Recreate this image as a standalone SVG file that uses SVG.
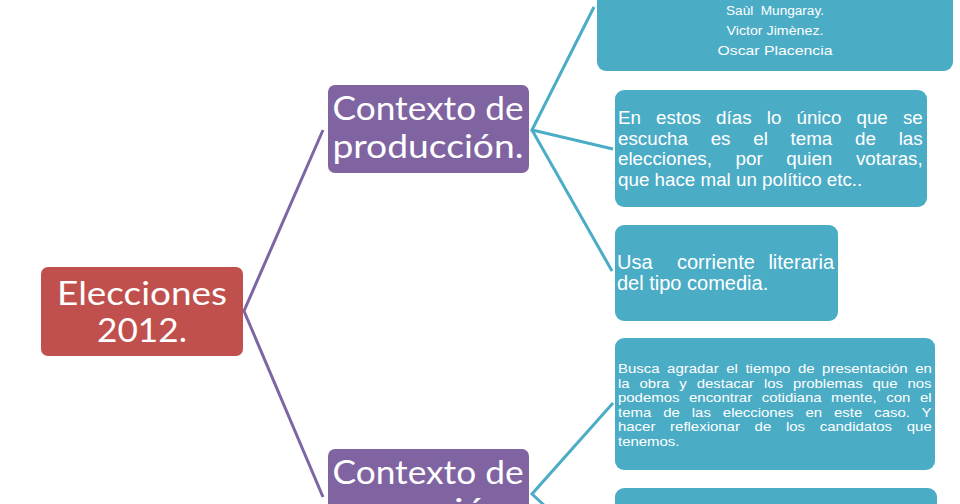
<svg xmlns="http://www.w3.org/2000/svg" width="960" height="504" viewBox="0 0 960 504">
<style>
.red{fill:#c0504d}
.pur{fill:#8064a2}
.teal{fill:#4bacc6}
.big{font-family:Lato,"Open Sans",sans-serif;font-size:33px;fill:#ffffff;text-anchor:middle}
.t{font-family:"Liberation Sans",Arial,sans-serif;fill:#ffffff}
.c-p{stroke:#7d66a6;stroke-width:3;fill:none}
.c-t{stroke:#4bacc6;stroke-width:3;fill:none}
</style>
<rect width="960" height="504" fill="#ffffff"/>
<g id="connectors">
<polyline class="c-p" points="323,130 244,311 323,497"/>
<polyline class="c-t" points="594,7 532,130 613,149"/>
<line class="c-t" x1="532" y1="130" x2="612" y2="271"/>
<polyline class="c-t" points="613,403 532,494 560,520"/>
</g>
<g id="n-elecciones">
<rect class="red" x="41" y="267" width="202" height="89" rx="7"/>
<text class="big" x="142" y="305" textLength="170" lengthAdjust="spacingAndGlyphs">Elecciones</text>
<text class="big" x="142" y="342" textLength="90" lengthAdjust="spacingAndGlyphs">2012.</text>
</g>
<g id="n-produccion">
<rect class="pur" x="328" y="85" width="201" height="88" rx="7"/>
<text class="big" x="428" y="120" textLength="191" lengthAdjust="spacingAndGlyphs">Contexto de</text>
<text class="big" x="428" y="158" textLength="191" lengthAdjust="spacingAndGlyphs">producción.</text>
</g>
<g id="n-recepcion">
<rect class="pur" x="328" y="449" width="201" height="88" rx="7"/>
<text class="big" x="428" y="484" textLength="191" lengthAdjust="spacingAndGlyphs">Contexto de</text>
<text class="big" x="428" y="522" textLength="180" lengthAdjust="spacingAndGlyphs">recepción.</text>
</g>
<g id="n-autores">
<rect class="teal" x="597" y="-20" width="356" height="91" rx="9"/>
<text class="t" x="775" y="15" font-size="12" text-anchor="middle" textLength="98" lengthAdjust="spacingAndGlyphs" xml:space="preserve">Saùl  Mungaray.</text>
<text class="t" x="775" y="35" font-size="12" text-anchor="middle" textLength="97" lengthAdjust="spacingAndGlyphs">Victor Jimènez.</text>
<text class="t" x="775" y="55" font-size="13" text-anchor="middle" textLength="115" lengthAdjust="spacingAndGlyphs">Oscar Placencia</text>
</g>
<g id="n-elecciones-dias">
<rect class="teal" x="615" y="90" width="312" height="117" rx="9"/>
<g class="t" font-size="18.8">
<text x="618" y="124" word-spacing="9.9">En estos días lo único que se</text>
<text x="618" y="144.5" word-spacing="17.5">escucha es el tema de las</text>
<text x="618" y="165" word-spacing="18.4">elecciones, por quien votaras,</text>
<text x="618" y="185.5">que hace mal un político etc..</text>
</g>
</g>
<g id="n-corriente">
<rect class="teal" x="615" y="225" width="223" height="96" rx="9"/>
<g class="t" font-size="20">
<text y="269"><tspan x="617">Usa</tspan><tspan x="677">corriente</tspan><tspan x="834" text-anchor="end">literaria</tspan></text>
<text x="617" y="290">del tipo comedia.</text>
</g>
</g>
<g id="n-busca">
<rect class="teal" x="615" y="338" width="320" height="132" rx="9"/>
<g class="t" font-size="13" transform="translate(618 0) scale(1.15 1)">
<text x="0" y="373" word-spacing="3">Busca agradar el tiempo de presentación en</text>
<text x="0" y="387.6" word-spacing="5">la obra y destacar los problemas que nos</text>
<text x="0" y="402.2" word-spacing="4.7">podemos encontrar cotidiana mente, con el</text>
<text x="0" y="416.8" word-spacing="6.8">tema de las elecciones en este caso. Y</text>
<text x="0" y="431.4" word-spacing="9.2">hacer reflexionar de los candidatos que</text>
<text x="0" y="446">tenemos.</text>
</g>
</g>
<g id="n-fifth">
<rect class="teal" x="615" y="488" width="322" height="60" rx="9"/>
</g>
</svg>
